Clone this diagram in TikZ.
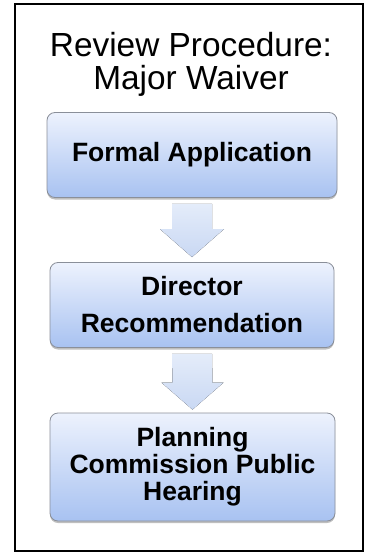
\documentclass[tikz,border=0pt]{standalone}
\usepackage{fontspec}
\setmainfont{Liberation Sans}
\usetikzlibrary{calc,shadows}
\definecolor{boxtop}{HTML}{EDF2FD}
\definecolor{boxbot}{HTML}{A8C2F1}
\definecolor{boxline}{HTML}{8A8F99}
\definecolor{arrtop}{HTML}{E4ECFA}
\definecolor{arrbot}{HTML}{C9D8F3}
\tikzset{
  stepbox/.style={rectangle, rounded corners=8pt, draw=boxline, line width=0.8pt,
    top color=boxtop, bottom color=boxbot, align=center,
    font=\fontsize{26.5}{27}\selectfont\bfseries, inner sep=0pt,
    drop shadow={shadow xshift=0pt, shadow yshift=-2pt, opacity=0.25, fill=black}},
  titletext/.style={font=\fontsize{33.4}{35}\selectfont, anchor=base, inner sep=0pt},
  flowarrow/.style={top color=arrtop, bottom color=arrbot, draw=none}
}
\begin{document}
\begin{tikzpicture}[x=1pt,y=-1pt]
\useasboundingbox (0,0) rectangle (372,556);
\draw[line width=1.5pt] (15,4) rectangle (363,551);
\node[titletext] (t1) at (191,57) {Review Procedure:};
\node[titletext] (t2) at (191,90) {Major Waiver};
\node[stepbox, minimum width=290pt, minimum height=85pt] (b1) at (192,155) {Formal Application};
\node[stepbox, minimum width=284pt, minimum height=85pt] (b2) at (192,305) {Director\\[10pt]Recommendation};
\node[stepbox, minimum width=285pt, minimum height=108pt] (b3) at (192.5,467) {Planning\\Commission Public\\Hearing};
% arrows
\fill[flowarrow] ($(b1.south)+(-20pt,-6pt)$) -- ($(b1.south)+(20pt,-6pt)$)
  -- ($(b2.north)+(20pt,33pt)$) -- ($(b2.north)+(32pt,33pt)$)
  -- ($(b2.north)+(0pt,5pt)$) -- ($(b2.north)+(-32pt,33pt)$)
  -- ($(b2.north)+(-20pt,33pt)$) -- cycle;
\fill[flowarrow] ($(b2.south)+(-20pt,-6pt)$) -- ($(b2.south)+(20pt,-6pt)$)
  -- ($(b3.north)+(20pt,30pt)$) -- ($(b3.north)+(31pt,30pt)$)
  -- ($(b3.north)+(0pt,3pt)$) -- ($(b3.north)+(-31pt,30pt)$)
  -- ($(b3.north)+(-20pt,30pt)$) -- cycle;
\end{tikzpicture}
\end{document}
